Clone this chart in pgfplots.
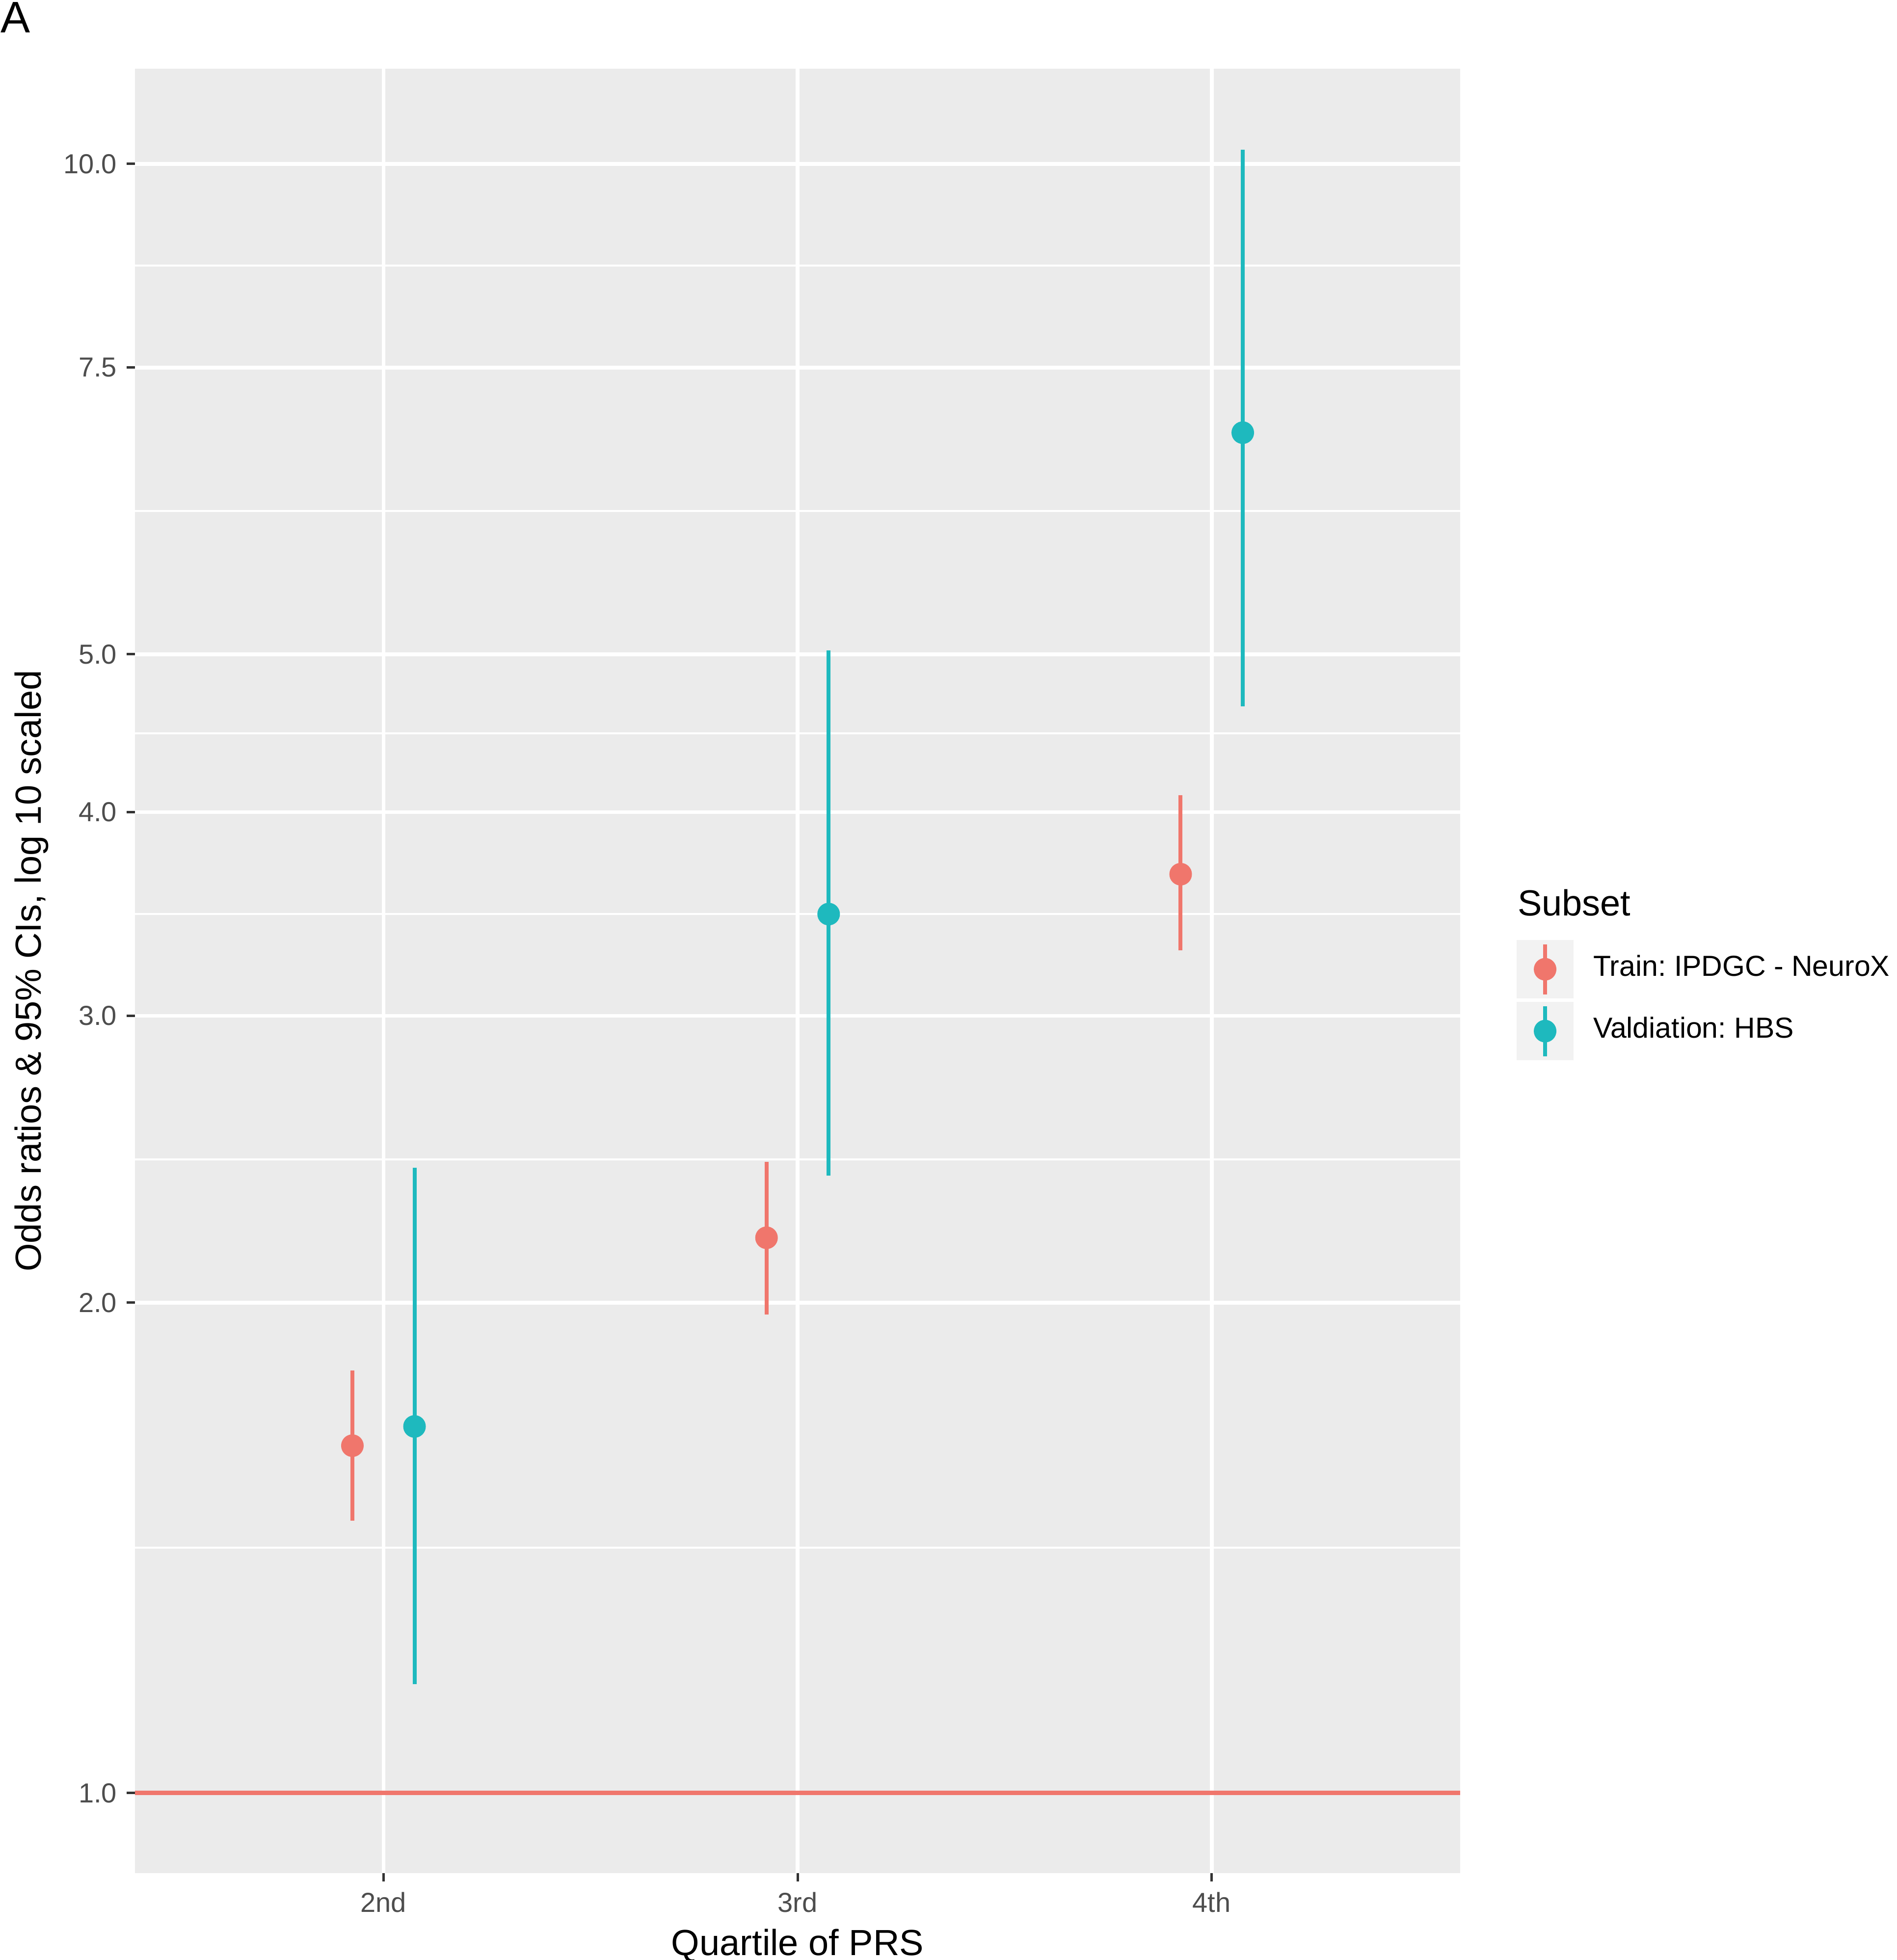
\documentclass[border=0pt]{standalone}
\usepackage{fontspec}
\setmainfont{Liberation Sans}
\usepackage{pgfplots}
\usepackage{pgfplotstable}
\pgfplotsset{compat=1.18}
\frenchspacing
\definecolor{cred}{RGB}{240,118,108}
\definecolor{cteal}{RGB}{30,185,190}
\definecolor{panel}{RGB}{235,235,235}
\definecolor{keybg}{RGB}{242,242,242}
\definecolor{ticklab}{RGB}{77,77,77}
\definecolor{tickcol}{RGB}{51,51,51}

\pgfplotstableread{
x y
0.925 1.634
1.925 2.192
2.925 3.665
}\trainTab
\pgfplotstableread{
x y
1.075 1.679
2.075 3.464
3.075 6.840
}\validTab

\begin{document}
\begin{tikzpicture}
\useasboundingbox (0,0) rectangle (386.4pt,399.3pt);
\node[anchor=north west, inner sep=0pt, font=\fontsize{9}{10}\selectfont] at (0pt,399.0pt) {A};
\begin{axis}[
  at={(27.5pt,17.7pt)}, anchor=south west,
  scale only axis, width=270pt, height=367.6pt,
  xmin=0.4, xmax=3.6,
  ymode=log, ymin=0.893, ymax=11.44,
  axis background/.style={fill=panel},
  axis line style={draw=none},
  xtick={1,2,3}, xticklabels={2nd,3rd,4th},
  ytick={1,2,3,4,5,7.5,10}, yticklabels={1.0,2.0,3.0,4.0,5.0,7.5,10.0},
  extra y ticks={1.4142,2.4495,3.4641,4.4721,6.1237,8.6603},
  extra y tick labels={},
  extra y tick style={grid=major, major grid style={white, line width=0.4pt}, major tick length=0pt},
  grid=major, major grid style={white, line width=0.75pt},
  xtick pos=bottom, ytick pos=left,
  tick align=outside, major tick length=1.7pt,
  tick style={tickcol, line width=0.5pt},
  /pgf/number format/assume math mode=true,
  ticklabel style={font=\fontsize{5.6}{6}\selectfont, text=ticklab},
  xticklabel style={anchor=north, inner sep=0pt, yshift=-2.0pt},
  yticklabel style={anchor=east, inner sep=0pt, xshift=-1.8pt},
  xlabel={Quartile of PRS},
  xlabel style={at={(axis description cs:0.5,0)}, anchor=base, yshift=-16.7pt, inner sep=0pt, font=\fontsize{7.4}{8}\selectfont},
  ylabel={Odds ratios \& 95\% CIs, log 10 scaled},
  ylabel style={at={(axis description cs:-0.0781,0.5)}, anchor=center, inner sep=0pt, font=\fontsize{7.4}{8}\selectfont},
  legend cell align=left,
  legend style={at={(axis description cs:1.0426,0.5171)}, anchor=north west,
    draw=none, fill=none, inner sep=0pt, outer sep=0pt,
    row sep=0.7pt, column sep=4pt,
    font=\fontsize{5.9}{6}\selectfont,
    nodes={inner sep=0pt}},
  clip=false,
]
% reference line at OR = 1
\addplot[cred, line width=0.9pt, forget plot] coordinates {(0.4,1) (3.6,1)};
% confidence intervals
\addplot[cred, line width=0.8pt, unbounded coords=jump, forget plot] coordinates {
  (0.925,1.470) (0.925,1.817) (0.925,nan)
  (1.925,1.967) (1.925,2.441) (1.925,nan)
  (2.925,3.290) (2.925,4.097)};
\addplot[cteal, line width=0.8pt, unbounded coords=jump, forget plot] coordinates {
  (1.075,1.166) (1.075,2.420) (1.075,nan)
  (2.075,2.394) (2.075,5.029) (2.075,nan)
  (3.075,4.645) (3.075,10.20)};
% point estimates
\addplot[only marks, mark=*, mark size=2.1pt, cred, mark options={draw=none, fill=cred}, forget plot] table[x=x, y=y] {\trainTab};
\addplot[only marks, mark=*, mark size=2.1pt, cteal, mark options={draw=none, fill=cteal}, forget plot] table[x=x, y=y] {\validTab};
% legend entries
\addlegendimage{cred, legend image code/.code={
  \fill[keybg] (-5.6pt,-5.75pt) rectangle (5.6pt,5.75pt);
  \draw[cred, line width=0.8pt] (0pt,-5.1pt) -- (0pt,5.1pt);
  \fill[cred] (0pt,0pt) circle (2.1pt);}}
\addlegendentry{Train: IPDGC - NeuroX}
\addlegendimage{cteal, legend image code/.code={
  \fill[keybg] (-5.6pt,-5.75pt) rectangle (5.6pt,5.75pt);
  \draw[cteal, line width=0.8pt] (0pt,-5.1pt) -- (0pt,5.1pt);
  \fill[cteal] (0pt,0pt) circle (2.1pt);}}
\addlegendentry{Valdiation: HBS}
\node[anchor=west, inner sep=0pt, font=\fontsize{7.4}{8}\selectfont] at (axis description cs:1.0426,0.5378) {Subset};
\end{axis}
\end{tikzpicture}
\end{document}
